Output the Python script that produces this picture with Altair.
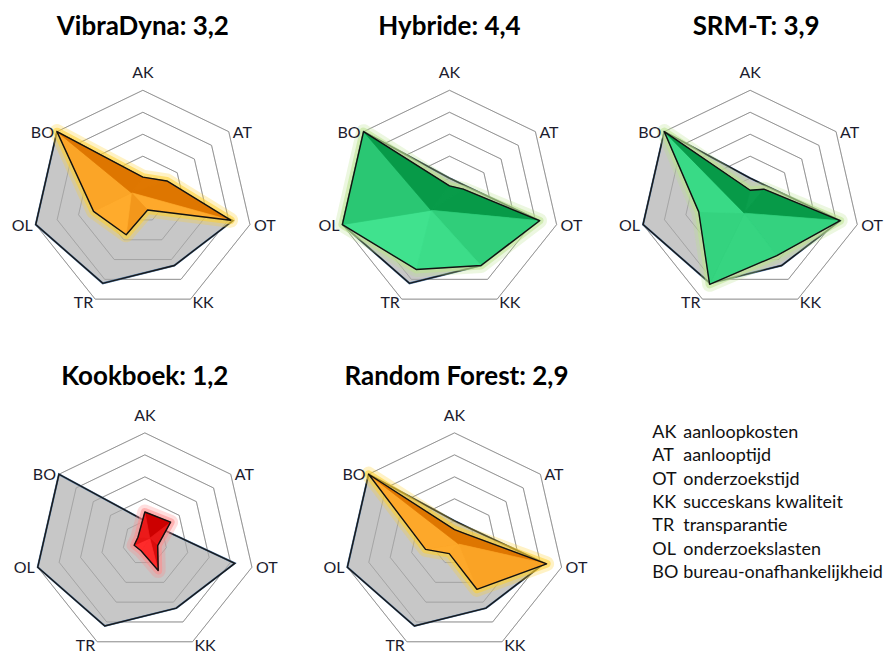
import math
import altair as alt
import pandas as pd

# ---------------- data ----------------
AXES = ["AK", "AT", "OT", "KK", "TR", "OL", "BO"]
REFERENCE = [1.0, 1.0, 4.2, 3.3, 4.2, 5.0, 5.0]          # grey polygon
VIBRADYNA = [1.05, 1.4, 4.1, 0.5, 1.75, 2.3, 5.0]
HYBRIDE = [0.65, 0.8, 4.2, 3.3, 3.5, 5.0, 5.0]
SRM_T = [0.45, 0.8, 4.2, 2.8, 4.25, 2.4, 5.0]
KOOKBOEK = [1.4, 1.5, 0.6, 1.4, 0.4, 0.5, 0.4]
RANDOM_FOREST = [0.6, 0.65, 4.3, 2.35, 0.55, 1.35, 5.0]

TITLES = ["VibraDyna: 3,2", "Hybride: 4,4", "SRM-T: 3,9", "Kookboek: 1,2", "Random Forest: 2,9"]
RINGS = [1, 2, 3, 4, 5]

LEGEND_ABBR = ["AK", "AT", "OT", "KK", "TR", "OL", "BO"]
LEGEND_TEXT = ["aanloopkosten", "aanlooptijd", "onderzoekstijd", "succeskans kwaliteit",
               "transparantie", "onderzoekslasten", "bureau-onafhankelijkheid"]

# colour schemes: (dark, light, glow)
ORANGE = ("#DE7600", "#FFAB2C", "#FFCF2E")
GREEN = ("#079A48", "#40E28E", "#BCE38E")
RED = ("#CC0000", "#FF2C2C", "#FF8A8A")

# ---------------- geometry helpers ----------------
K = 22.0          # px per unit
W = 266           # panel width
H = 250           # panel height
TOP = 139         # px from plot top to radar centre
YDOM = [-(H - TOP) / K, TOP / K]
N = len(AXES)


def pt(r, i):
    a = 2 * math.pi * i / N
    return r * math.sin(a), r * math.cos(a)


def mix(c1, c2, t):
    a = [int(c1[j:j + 2], 16) for j in (1, 3, 5)]
    b = [int(c2[j:j + 2], 16) for j in (1, 3, 5)]
    return "#" + "".join(f"{round(a[k] + (b[k] - a[k]) * t):02x}" for k in range(3))


Y = alt.Y("y:Q", axis=None, scale=alt.Scale(domain=YDOM, nice=False, zero=False))

ring_rows = []
for r in RINGS:
    for i in range(N):
        x, y = pt(r, i)
        ring_rows.append({"ring": r, "i": i, "x": x, "y": y})
ring_df = pd.DataFrame(ring_rows)

label_rows = []
for i, a in enumerate(AXES):
    x, y = pt(5, i)
    side = "top" if i == 0 else ("right" if i <= 3 else "left")
    label_rows.append({"label": a, "x": x, "y": y, "side": side, "bottom": i in (3, 4)})
label_df = pd.DataFrame(label_rows)


def poly_df(vals):
    rows = []
    for i, v in enumerate(vals):
        x, y = pt(v, i)
        rows.append({"i": i, "x": x, "y": y, "axis": AXES[i], "value": v})
    return pd.DataFrame(rows)


def centroid(vals):
    pts = [pt(v, i) for i, v in enumerate(vals)]
    a = cx = cy = 0.0
    for j in range(N):
        x1, y1 = pts[j]
        x2, y2 = pts[(j + 1) % N]
        c = x1 * y2 - x2 * y1
        a += c
        cx += (x1 + x2) * c
        cy += (y1 + y2) * c
    a *= 0.5
    return cx / (6 * a), cy / (6 * a)


def facet_df(vals, dark, light):
    rows = []
    L = (-0.45, -0.89)
    ax, ay = centroid(vals)
    ax, ay = 0.75 * ax, 0.75 * ay
    for j in range(N):
        x1, y1 = pt(vals[j], j)
        x2, y2 = pt(vals[(j + 1) % N], (j + 1) % N)
        dx, dy = x2 - x1, y2 - y1
        nx, ny = -dy, dx
        ln = math.hypot(nx, ny) or 1
        t = 0.5 + 0.5 * (nx * L[0] + ny * L[1]) / ln
        col = mix(dark, light, t)
        for k, (x, y) in enumerate([(ax, ay), (x1, y1), (x2, y2)]):
            rows.append({"facet": j, "k": k, "x": x, "y": y, "col": col})
    return pd.DataFrame(rows)


def radar(title, vals, scheme, title_offset, center_px, title_dx):
    dark, light, glow = scheme
    X = alt.X("x:Q", axis=None, scale=alt.Scale(
        domain=[-center_px / K, (W - center_px) / K], nice=False, zero=False))
    pdf = poly_df(vals)
    gdf = poly_df(REFERENCE)
    fdf = facet_df(vals, dark, light)

    rings = alt.Chart(ring_df).mark_line(interpolate="linear-closed", color="#A2A2A2",
                                         strokeWidth=1).encode(
        x=X, y=Y, detail="ring:N", order="i:Q")
    grey = alt.Chart(gdf).mark_line(interpolate="linear-closed", fill="#BDBDBD",
                                    fillOpacity=0.85).encode(x=X, y=Y, order="i:Q")
    rings_in = alt.Chart(ring_df).mark_line(interpolate="linear-closed", color="#808080",
                                            strokeWidth=0.8, opacity=0.45).encode(
        x=X, y=Y, detail="ring:N", order="i:Q")
    grey_edge = alt.Chart(gdf).mark_line(interpolate="linear-closed", stroke="#1A1A1A",
                                         strokeWidth=1.4).encode(x=X, y=Y, order="i:Q")
    glow1 = alt.Chart(pdf).mark_line(interpolate="linear-closed", stroke=glow,
                                     strokeWidth=15, strokeJoin="round", opacity=0.28).encode(
        x=X, y=Y, order="i:Q")
    glow2 = alt.Chart(pdf).mark_line(interpolate="linear-closed", stroke=glow,
                                     strokeWidth=8, strokeJoin="round", opacity=0.55).encode(
        x=X, y=Y, order="i:Q")
    base = alt.Chart(pdf).mark_line(interpolate="linear-closed", fill=mix(dark, light, 0.5),
                                    strokeWidth=0).encode(x=X, y=Y, order="i:Q")
    facets = alt.Chart(fdf).mark_line(interpolate="linear-closed", strokeWidth=0.7).encode(
        x=X, y=Y, order="k:Q", detail="facet:N",
        fill=alt.Fill("col:N", scale=None), stroke=alt.Stroke("col:N", scale=None))
    outline = alt.Chart(pdf).mark_line(interpolate="linear-closed", stroke="#111111",
                                       strokeWidth=1.4, strokeJoin="round").encode(
        x=X, y=Y, order="i:Q")

    font = dict(font="Lato", fontSize=16, color="#1C1C2E")
    lab_top = alt.Chart(label_df).transform_filter("datum.side == 'top'").mark_text(
        align="center", baseline="middle", dy=-17, **font).encode(x=X, y=Y, text="label:N")
    lab_right = alt.Chart(label_df).transform_filter(
        "datum.side == 'right' && !datum.bottom").mark_text(
        align="left", baseline="middle", dx=4, dy=1, **font).encode(x=X, y=Y, text="label:N")
    lab_left = alt.Chart(label_df).transform_filter(
        "datum.side == 'left' && !datum.bottom").mark_text(
        align="right", baseline="middle", dx=-3, dy=1, **font).encode(x=X, y=Y, text="label:N")
    lab_br = alt.Chart(label_df).transform_filter(
        "datum.side == 'right' && datum.bottom").mark_text(
        align="left", baseline="middle", dx=2, dy=4, **font).encode(x=X, y=Y, text="label:N")
    lab_bl = alt.Chart(label_df).transform_filter(
        "datum.side == 'left' && datum.bottom").mark_text(
        align="right", baseline="middle", dx=-2, dy=4, **font).encode(x=X, y=Y, text="label:N")

    return alt.layer(rings, grey, rings_in, grey_edge, glow1, glow2, base, facets, outline,
                     lab_top, lab_right, lab_left, lab_br, lab_bl).properties(
        width=W, height=H,
        title=alt.TitleParams(title, font="Lato", fontSize=26, fontWeight="bold",
                              color="#000000", anchor="middle", frame="group",
                              offset=title_offset, dx=title_dx))


p1 = radar(TITLES[0], VIBRADYNA, ORANGE, 21, 133, 0)
p2 = radar(TITLES[1], HYBRIDE, GREEN, 21, 136, 3)
p3 = radar(TITLES[2], SRM_T, GREEN, 21, 133, 6)
p4 = radar(TITLES[3], KOOKBOEK, RED, 14, 135, 2)
p5 = radar(TITLES[4], RANDOM_FOREST, ORANGE, 14, 141, 10)

leg_df = pd.DataFrame({"idx": list(range(len(LEGEND_ABBR))), "abbr": LEGEND_ABBR,
                       "text": LEGEND_TEXT})
LY = alt.Y("idx:Q", axis=None, scale=alt.Scale(domain=[-1.24, 9.445], reverse=True,
                                                nice=False, zero=False))
leg_font = dict(font="Lato", fontSize=18, color="#111111", baseline="middle", align="left")
leg_a = alt.Chart(leg_df).mark_text(**leg_font).encode(x=alt.value(35), y=LY, text="abbr:N")
leg_b = alt.Chart(leg_df).mark_text(**leg_font).encode(x=alt.value(66), y=LY, text="text:N")
legend = alt.layer(leg_a, leg_b).properties(width=W, height=H)

row1 = alt.hconcat(p1, p2, p3, spacing=38, bounds="flush")
row2 = alt.hconcat(p4, p5, legend, spacing=38, bounds="flush")
chart = alt.vconcat(row1, row2, spacing=52).properties(
    padding={"left": 2, "top": 6, "right": 0, "bottom": 0}
).configure_view(strokeWidth=0)

chart.save("out.html", embed_options={"renderer": "svg", "actions": False})
